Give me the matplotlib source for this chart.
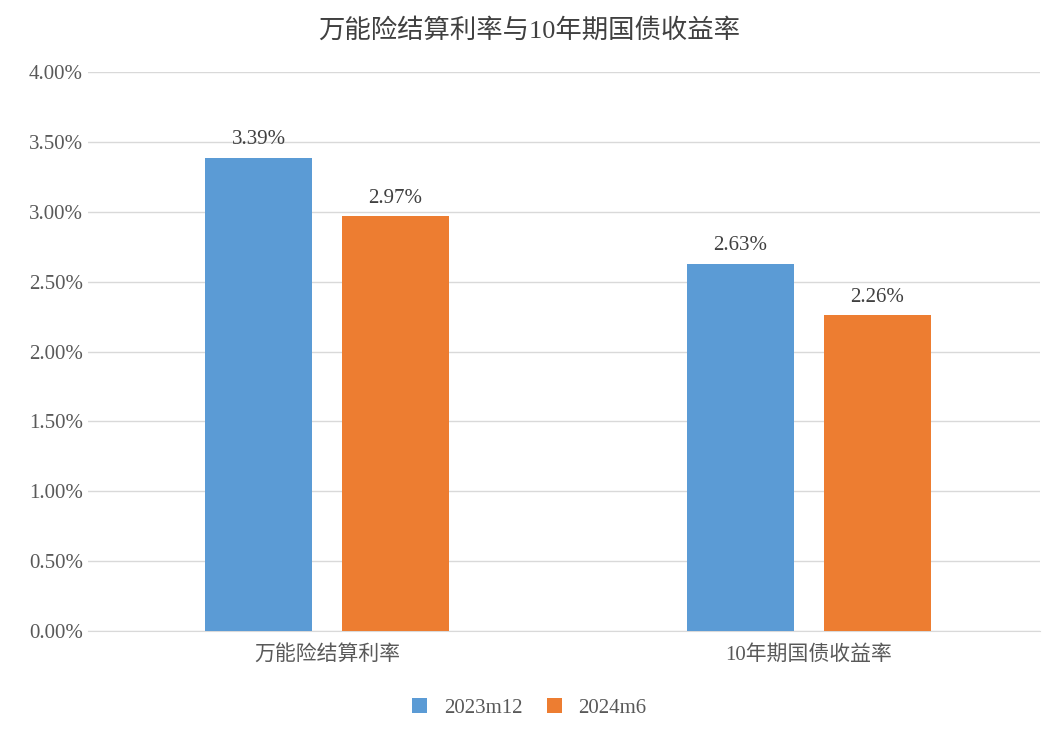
import matplotlib.pyplot as plt
import numpy as np
from matplotlib.ticker import FuncFormatter

plt.rcParams['font.family'] = ['Liberation Serif', 'Noto Sans CJK SC']

categories = ['万能险结算利率', '10年期国债收益率']
series_names = ['2023m12', '2024m6']
v2023 = [3.39, 2.63]
v2024 = [2.97, 2.26]
colors = ['#5B9BD5', '#ED7D31']

fig = plt.figure(figsize=(10.59, 7.36), dpi=100)
ax = fig.add_axes([0.083, 0.1427, 0.899, 0.759])

x = np.arange(len(categories))
w = 0.222
off = 0.142
b1 = ax.bar(x - off, v2023, w, color=colors[0], label=series_names[0], zorder=3)
b2 = ax.bar(x + off, v2024, w, color=colors[1], label=series_names[1], zorder=3)
for bars, vals in ((b1, v2023), (b2, v2024)):
    for b, v in zip(bars, vals):
        ax.text(b.get_x() + b.get_width() / 2, v + 0.06, f'{v:.2f}%',
                ha='center', va='bottom', fontsize=15, color='#404040')

ax.set_xlim(-0.496, 1.479)
ax.set_ylim(0, 4)
ax.set_yticks(np.arange(0, 4.01, 0.5))
ax.yaxis.set_major_formatter(FuncFormatter(lambda v, p: f'{v:.2f}%'))
ax.set_xticks(x)
ax.set_xticklabels(categories)
ax.tick_params(axis='both', length=0, labelsize=15, colors='#595959')
ax.tick_params(axis='x', pad=10)
ax.grid(axis='y', color='#D9D9D9', linewidth=1, zorder=0)
for s in ['top', 'right', 'left']:
    ax.spines[s].set_visible(False)
ax.spines['bottom'].set_color('#D9D9D9')

fig.suptitle('万能险结算利率与10年期国债收益率', y=0.975, fontsize=19, color='#404040')
fig.legend(loc='center', bbox_to_anchor=(0.5, 0.038), ncol=2, frameon=False,
           fontsize=15, handlelength=0.7, handleheight=0.7, columnspacing=1.2,
           labelcolor='#595959')

fig.savefig('out.png', dpi=100)
